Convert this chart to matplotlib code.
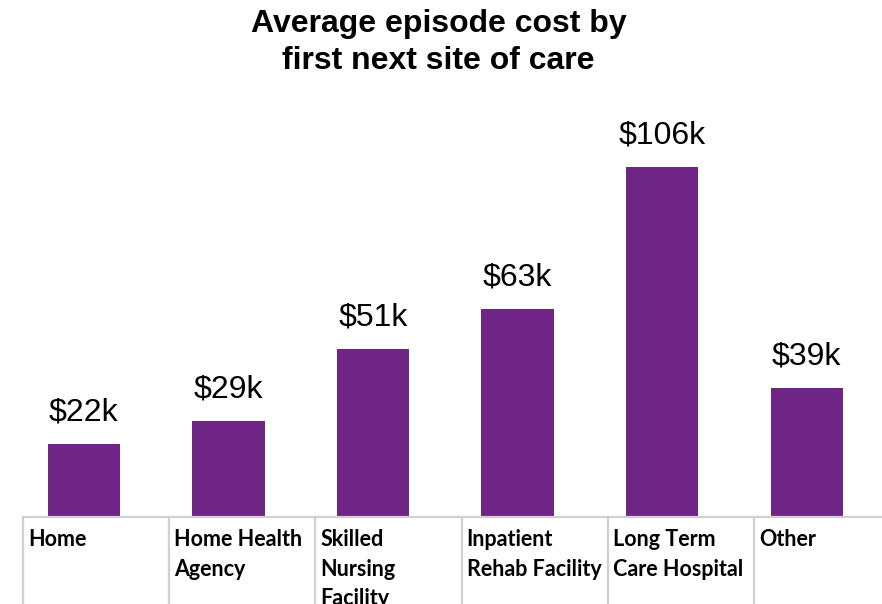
import matplotlib.pyplot as plt

categories = ["Home\n", "Home Health\nAgency", "Skilled\nNursing\nFacility",
              "Inpatient\nRehab Facility", "Long Term\nCare Hospital", "Other"]
costs = [22, 29, 51, 63, 106, 39]  # $ thousands
value_labels = ["$22k", "$29k", "$51k", "$63k", "$106k", "$39k"]

purple = "#6F2586"
grid_gray = "#D0D0D0"

fig = plt.figure(figsize=(8.82, 6.04), dpi=100)
# axes box in pixels: x 23..882, y 100..517 (from top)
ax = fig.add_axes([23 / 882, 87 / 604, 859 / 882, 417 / 604])

x = list(range(len(costs)))
ax.bar(x, costs, width=0.5, color=purple)
ax.set_xlim(-0.42, 5.52)
ax.set_ylim(0, 126.4)

for xi, c, lab in zip(x, costs, value_labels):
    ax.text(xi, c + 5, lab, ha="center", va="bottom", fontsize=23,
            family="Liberation Sans")

for s in ax.spines.values():
    s.set_visible(False)
ax.set_xticks([])
ax.set_yticks([])

# table-like category row under the axis
bottom = -87 / 417
cell = 146.2 / 859
ax.plot([0, 1], [0, 0], transform=ax.transAxes, color=grid_gray, lw=1.6,
        clip_on=False)
for i, cat in enumerate(categories):
    left = i * cell
    ax.plot([left, left], [0, bottom], transform=ax.transAxes, color=grid_gray,
            lw=1.6, clip_on=False)
    ax.text(left + 5 / 859, -12 / 417, cat, transform=ax.transAxes,
            ha="left", va="top", fontsize=15.5, fontweight="bold",
            family="Lato", linespacing=1.5)

fig.text(0.497, 0.985, "Average episode cost by\nfirst next site of care",
         ha="center", va="top", fontsize=23, fontweight="bold",
         family="Liberation Sans", linespacing=1.3)

fig.savefig("out.png", dpi=100)
